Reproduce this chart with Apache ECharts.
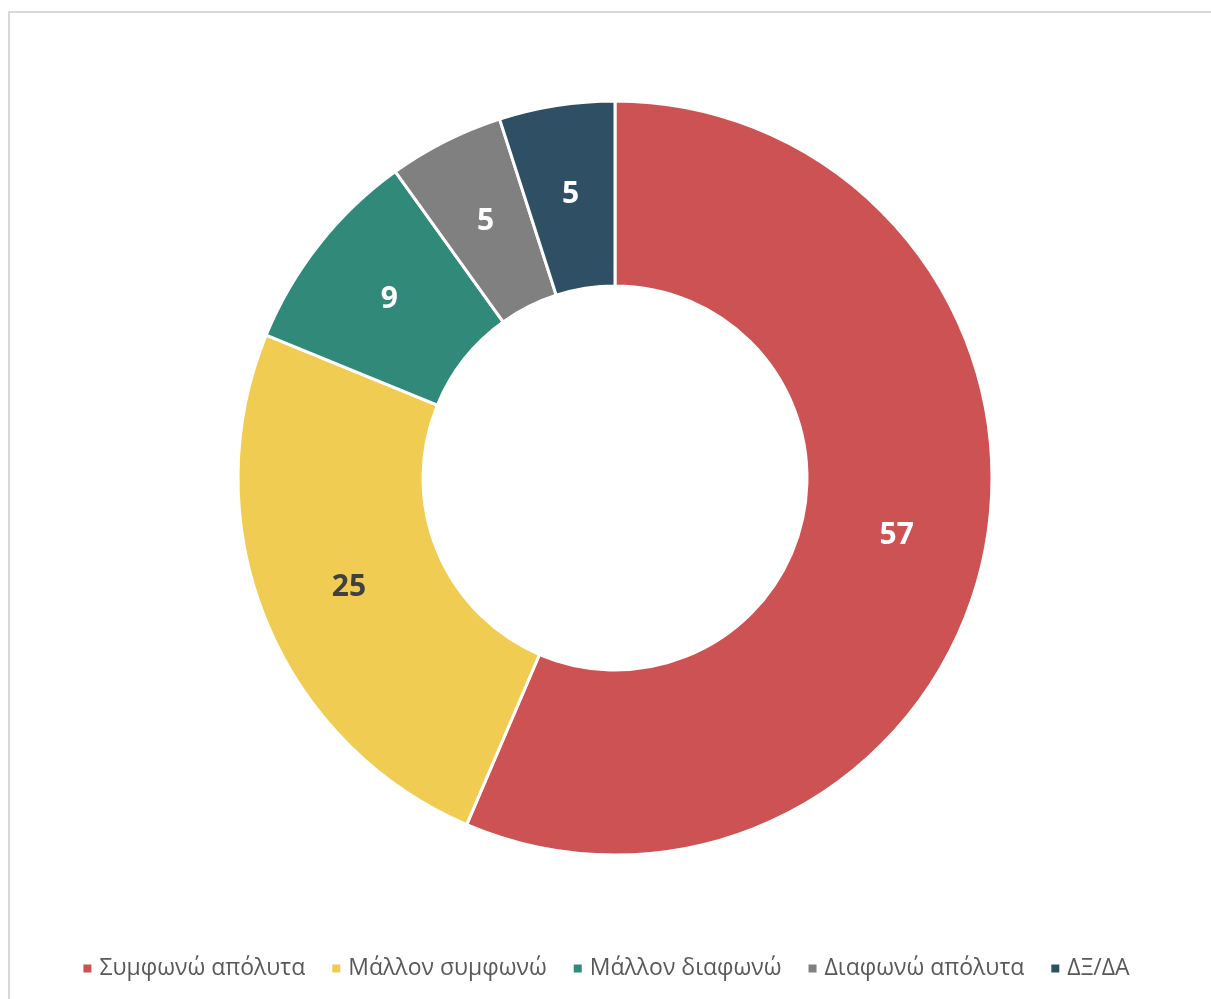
<!DOCTYPE html>
<html>
<head>
<meta charset="utf-8">
<script src="https://cdn.jsdelivr.net/npm/echarts@6/dist/echarts.min.js"></script>
<style>
html,body{margin:0;padding:0;background:#fff;overflow:hidden;}
#frame{position:absolute;left:8px;top:11px;width:1300px;height:1100px;border:2px solid #d9d9d9;box-sizing:border-box;}
#chart{position:absolute;left:0;top:0;width:1211px;height:999px;}
</style>
</head>
<body>
<div id="frame"></div>
<div id="chart"></div>
<script>
const categories = ['Συμφωνώ απόλυτα','Μάλλον συμφωνώ','Μάλλον διαφωνώ','Διαφωνώ απόλυτα','ΔΞ/ΔΑ'];
const values = [57, 25, 9, 5, 5];
const colors = ['#CD5253','#F0CD52','#31897A','#808080','#2F5064'];
const labelColors = ['#ffffff','#404040','#ffffff','#ffffff','#ffffff'];

const chart = echarts.init(document.getElementById('chart'), null, {renderer:'canvas'});
chart.setOption({
  animation:false,
  backgroundColor:'transparent',
  legend:{
    bottom:14,
    left:'center',
    itemWidth:10, itemHeight:10, itemGap:25,
    icon:'rect',
    textStyle:{color:'#595959', fontSize:23, fontFamily:'Open Sans', padding:[0,0,0,2]},
    data:categories
  },
  series:[{
    type:'pie',
    center:[615,478],
    radius:[192,377],
    startAngle:90,
    clockwise:true,
    avoidLabelOverlap:false,
    itemStyle:{borderColor:'#fff', borderWidth:3},
    label:{
      show:true, position:'inside',
      fontSize:30, fontWeight:'bold', fontFamily:'Open Sans',
      formatter:p=>p.value
    },
    labelLine:{show:false},
    data:categories.map((c,i)=>({name:c,value:values[i],itemStyle:{color:colors[i]},label:{color:labelColors[i]}}))
  }]
});
</script>
</body>
</html>
